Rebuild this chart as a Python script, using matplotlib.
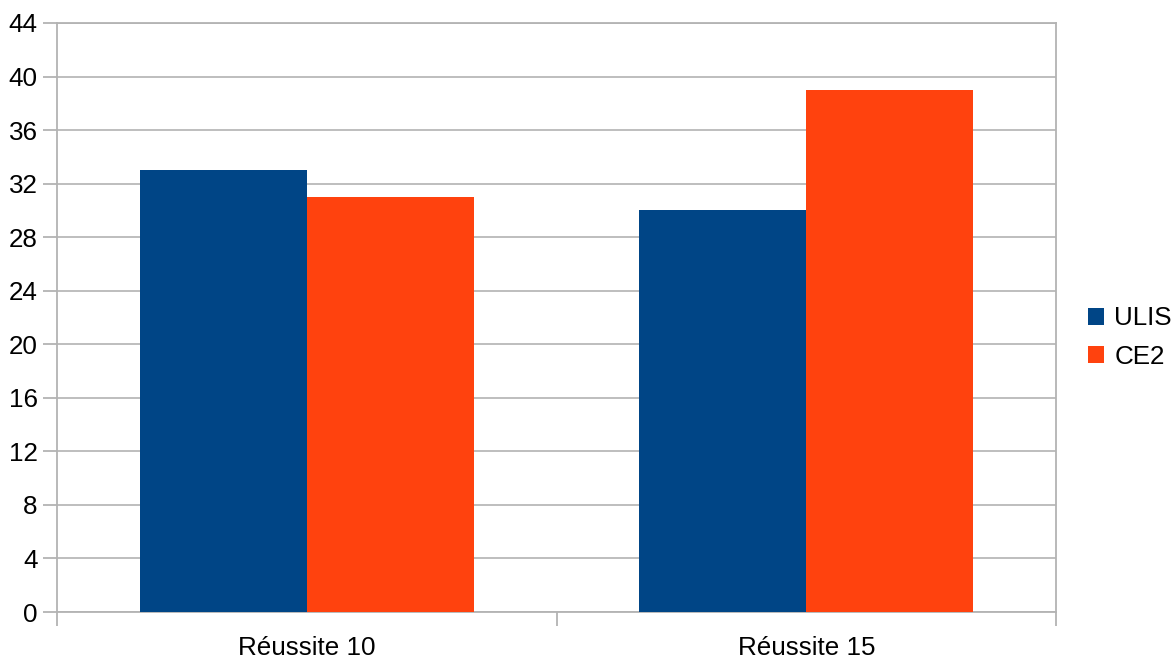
import matplotlib
matplotlib.use("Agg")
import matplotlib.pyplot as plt
import numpy as np

categories = ["Réussite 10", "Réussite 15"]
series_names = ["ULIS", "CE2"]
ulis = [33, 30]
ce2 = [31, 39]
yticks = list(range(0, 45, 4))

colors = ["#004586", "#ff420e"]
grid_c = "#b3b3b3"

plt.rcParams['font.family'] = ['Liberation Sans', 'DejaVu Sans']
fs = 18.7

fig = plt.figure(figsize=(11.74, 6.61), dpi=100)
ax = fig.add_axes([57/1174, 1 - 612/661, (1056-57)/1174, (612-23)/661])

x = np.arange(len(categories))
w = 0.334
ax.bar(x - w/2, ulis, w, color=colors[0], label=series_names[0], zorder=3)
ax.bar(x + w/2, ce2, w, color=colors[1], label=series_names[1], zorder=3)

ax.set_xlim(-0.5, len(categories) - 0.5)
ax.set_ylim(0, 44)
ax.set_yticks(yticks)
ax.set_yticklabels([str(v) for v in yticks], fontsize=fs)
ax.set_xticks(x)
ax.set_xticklabels(categories, fontsize=fs)
ax.set_xticks(np.arange(-0.5, len(categories), 1.0), minor=True)
ax.tick_params(axis='x', which='major', length=0, pad=17)
ax.tick_params(axis='x', which='minor', length=10, width=1.3, color=grid_c)
ax.tick_params(axis='y', which='major', length=10, width=1.3, color=grid_c, pad=4)
ax.yaxis.grid(True, color=grid_c, linewidth=1.2, zorder=0)
ax.set_axisbelow(True)
for s in ax.spines.values():
    s.set_color(grid_c)
    s.set_linewidth(1.3)

leg = ax.legend(loc='center left', bbox_to_anchor=(1.032, 0.466), frameon=False,
                fontsize=fs, handlelength=0.62, handleheight=0.62,
                handletextpad=0.4, labelspacing=0.55, borderaxespad=0,
                borderpad=0)

fig.savefig("out.png", dpi=100)
